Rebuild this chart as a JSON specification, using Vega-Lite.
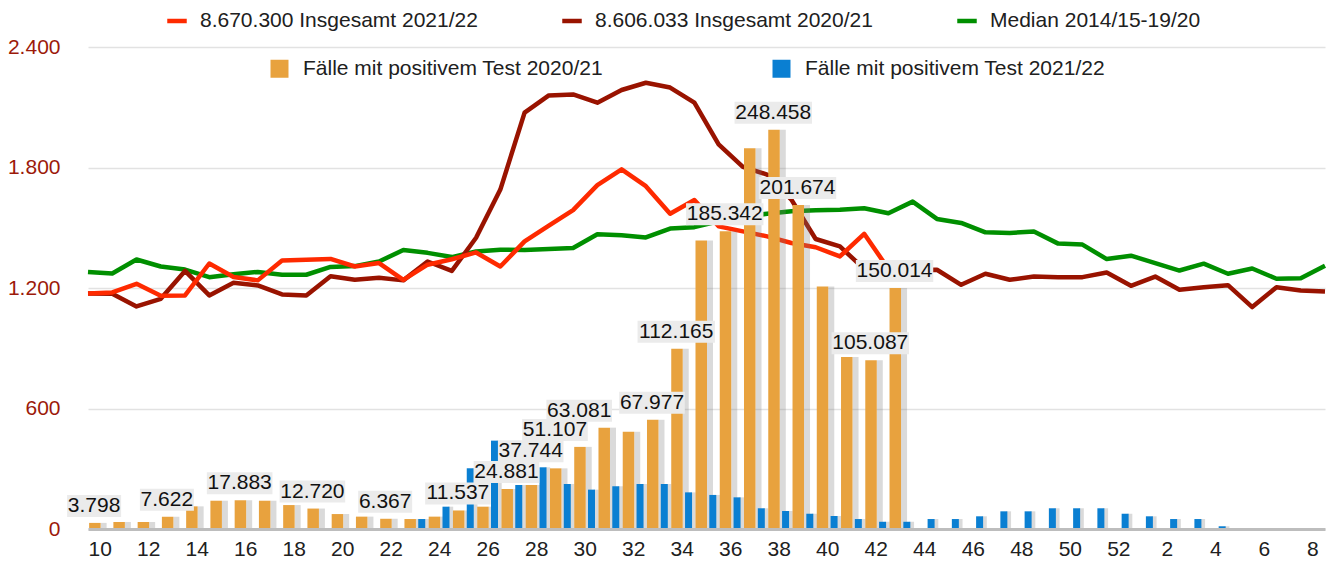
{
  "$schema": "https://vega.github.io/schema/vega-lite/v6.json",
  "width": 1237,
  "height": 482,
  "autosize": {"type": "none"},
  "padding": {"left": 88, "top": 47, "right": 2, "bottom": 35},
  "background": "white",
  "config": {
    "font": "Liberation Sans",
    "view": {"stroke": null},
    "axis": {"labelFont": "Liberation Sans"},
    "legend": {"labelFont": "Liberation Sans"},
    "text": {"font": "Liberation Sans"}
  },
  "datasets": {
    "lines": [
      {"week":10,"series":"Median 2014/15-19/20","deaths":1280},{"week":11,"series":"Median 2014/15-19/20","deaths":1272},{"week":12,"series":"Median 2014/15-19/20","deaths":1342},{"week":13,"series":"Median 2014/15-19/20","deaths":1307},{"week":14,"series":"Median 2014/15-19/20","deaths":1292},{"week":15,"series":"Median 2014/15-19/20","deaths":1254},{"week":16,"series":"Median 2014/15-19/20","deaths":1268},{"week":17,"series":"Median 2014/15-19/20","deaths":1280},{"week":18,"series":"Median 2014/15-19/20","deaths":1266},{"week":19,"series":"Median 2014/15-19/20","deaths":1266},
      {"week":20,"series":"Median 2014/15-19/20","deaths":1305},{"week":21,"series":"Median 2014/15-19/20","deaths":1309},{"week":22,"series":"Median 2014/15-19/20","deaths":1332},{"week":23,"series":"Median 2014/15-19/20","deaths":1389},{"week":24,"series":"Median 2014/15-19/20","deaths":1375},{"week":25,"series":"Median 2014/15-19/20","deaths":1354},{"week":26,"series":"Median 2014/15-19/20","deaths":1382},{"week":27,"series":"Median 2014/15-19/20","deaths":1391},{"week":28,"series":"Median 2014/15-19/20","deaths":1389},{"week":29,"series":"Median 2014/15-19/20","deaths":1394},
      {"week":30,"series":"Median 2014/15-19/20","deaths":1399},{"week":31,"series":"Median 2014/15-19/20","deaths":1468},{"week":32,"series":"Median 2014/15-19/20","deaths":1463},{"week":33,"series":"Median 2014/15-19/20","deaths":1452},{"week":34,"series":"Median 2014/15-19/20","deaths":1496},{"week":35,"series":"Median 2014/15-19/20","deaths":1503},{"week":36,"series":"Median 2014/15-19/20","deaths":1532},{"week":37,"series":"Median 2014/15-19/20","deaths":1554},{"week":38,"series":"Median 2014/15-19/20","deaths":1570},{"week":39,"series":"Median 2014/15-19/20","deaths":1582},
      {"week":40,"series":"Median 2014/15-19/20","deaths":1587},{"week":41,"series":"Median 2014/15-19/20","deaths":1590},{"week":42,"series":"Median 2014/15-19/20","deaths":1597},{"week":43,"series":"Median 2014/15-19/20","deaths":1572},{"week":44,"series":"Median 2014/15-19/20","deaths":1630},{"week":45,"series":"Median 2014/15-19/20","deaths":1544},{"week":46,"series":"Median 2014/15-19/20","deaths":1524},{"week":47,"series":"Median 2014/15-19/20","deaths":1477},{"week":48,"series":"Median 2014/15-19/20","deaths":1474},{"week":49,"series":"Median 2014/15-19/20","deaths":1481},
      {"week":50,"series":"Median 2014/15-19/20","deaths":1421},{"week":51,"series":"Median 2014/15-19/20","deaths":1416},{"week":52,"series":"Median 2014/15-19/20","deaths":1344},{"week":1,"series":"Median 2014/15-19/20","deaths":1361},{"week":2,"series":"Median 2014/15-19/20","deaths":1324},{"week":3,"series":"Median 2014/15-19/20","deaths":1287},{"week":4,"series":"Median 2014/15-19/20","deaths":1321},{"week":5,"series":"Median 2014/15-19/20","deaths":1271},{"week":6,"series":"Median 2014/15-19/20","deaths":1297},{"week":7,"series":"Median 2014/15-19/20","deaths":1246},{"week":8,"series":"Median 2014/15-19/20","deaths":1249},{"week":9,"series":"Median 2014/15-19/20","deaths":1311},

      {"week":10,"series":"8.606.033 Insgesamt 2020/21","deaths":1173},{"week":11,"series":"8.606.033 Insgesamt 2020/21","deaths":1171},{"week":12,"series":"8.606.033 Insgesamt 2020/21","deaths":1108},{"week":13,"series":"8.606.033 Insgesamt 2020/21","deaths":1146},{"week":14,"series":"8.606.033 Insgesamt 2020/21","deaths":1285},{"week":15,"series":"8.606.033 Insgesamt 2020/21","deaths":1163},{"week":16,"series":"8.606.033 Insgesamt 2020/21","deaths":1226},{"week":17,"series":"8.606.033 Insgesamt 2020/21","deaths":1213},{"week":18,"series":"8.606.033 Insgesamt 2020/21","deaths":1168},{"week":19,"series":"8.606.033 Insgesamt 2020/21","deaths":1163},
      {"week":20,"series":"8.606.033 Insgesamt 2020/21","deaths":1259},{"week":21,"series":"8.606.033 Insgesamt 2020/21","deaths":1241},{"week":22,"series":"8.606.033 Insgesamt 2020/21","deaths":1251},{"week":23,"series":"8.606.033 Insgesamt 2020/21","deaths":1238},{"week":24,"series":"8.606.033 Insgesamt 2020/21","deaths":1332},{"week":25,"series":"8.606.033 Insgesamt 2020/21","deaths":1285},{"week":26,"series":"8.606.033 Insgesamt 2020/21","deaths":1450},{"week":27,"series":"8.606.033 Insgesamt 2020/21","deaths":1690},{"week":28,"series":"8.606.033 Insgesamt 2020/21","deaths":2073},{"week":29,"series":"8.606.033 Insgesamt 2020/21","deaths":2159},
      {"week":30,"series":"8.606.033 Insgesamt 2020/21","deaths":2164},{"week":31,"series":"8.606.033 Insgesamt 2020/21","deaths":2123},{"week":32,"series":"8.606.033 Insgesamt 2020/21","deaths":2186},{"week":33,"series":"8.606.033 Insgesamt 2020/21","deaths":2222},{"week":34,"series":"8.606.033 Insgesamt 2020/21","deaths":2198},{"week":35,"series":"8.606.033 Insgesamt 2020/21","deaths":2123},{"week":36,"series":"8.606.033 Insgesamt 2020/21","deaths":1915},{"week":37,"series":"8.606.033 Insgesamt 2020/21","deaths":1803},{"week":38,"series":"8.606.033 Insgesamt 2020/21","deaths":1765},{"week":39,"series":"8.606.033 Insgesamt 2020/21","deaths":1640},
      {"week":40,"series":"8.606.033 Insgesamt 2020/21","deaths":1444},{"week":41,"series":"8.606.033 Insgesamt 2020/21","deaths":1407},{"week":42,"series":"8.606.033 Insgesamt 2020/21","deaths":1295},{"week":43,"series":"8.606.033 Insgesamt 2020/21","deaths":1300},{"week":44,"series":"8.606.033 Insgesamt 2020/21","deaths":1290},{"week":45,"series":"8.606.033 Insgesamt 2020/21","deaths":1291},{"week":46,"series":"8.606.033 Insgesamt 2020/21","deaths":1216},{"week":47,"series":"8.606.033 Insgesamt 2020/21","deaths":1271},{"week":48,"series":"8.606.033 Insgesamt 2020/21","deaths":1241},{"week":49,"series":"8.606.033 Insgesamt 2020/21","deaths":1257},
      {"week":50,"series":"8.606.033 Insgesamt 2020/21","deaths":1254},{"week":51,"series":"8.606.033 Insgesamt 2020/21","deaths":1254},{"week":52,"series":"8.606.033 Insgesamt 2020/21","deaths":1277},{"week":1,"series":"8.606.033 Insgesamt 2020/21","deaths":1211},{"week":2,"series":"8.606.033 Insgesamt 2020/21","deaths":1257},{"week":3,"series":"8.606.033 Insgesamt 2020/21","deaths":1191},{"week":4,"series":"8.606.033 Insgesamt 2020/21","deaths":1204},{"week":5,"series":"8.606.033 Insgesamt 2020/21","deaths":1214},{"week":6,"series":"8.606.033 Insgesamt 2020/21","deaths":1105},{"week":7,"series":"8.606.033 Insgesamt 2020/21","deaths":1204},{"week":8,"series":"8.606.033 Insgesamt 2020/21","deaths":1188},{"week":9,"series":"8.606.033 Insgesamt 2020/21","deaths":1183},

      {"week":10,"series":"8.670.300 Insgesamt 2021/22","deaths":1173},{"week":11,"series":"8.670.300 Insgesamt 2021/22","deaths":1178},{"week":12,"series":"8.670.300 Insgesamt 2021/22","deaths":1221},{"week":13,"series":"8.670.300 Insgesamt 2021/22","deaths":1161},{"week":14,"series":"8.670.300 Insgesamt 2021/22","deaths":1163},{"week":15,"series":"8.670.300 Insgesamt 2021/22","deaths":1322},{"week":16,"series":"8.670.300 Insgesamt 2021/22","deaths":1255},{"week":17,"series":"8.670.300 Insgesamt 2021/22","deaths":1238},{"week":18,"series":"8.670.300 Insgesamt 2021/22","deaths":1337},{"week":19,"series":"8.670.300 Insgesamt 2021/22","deaths":1341},
      {"week":20,"series":"8.670.300 Insgesamt 2021/22","deaths":1345},{"week":21,"series":"8.670.300 Insgesamt 2021/22","deaths":1307},{"week":22,"series":"8.670.300 Insgesamt 2021/22","deaths":1324},{"week":23,"series":"8.670.300 Insgesamt 2021/22","deaths":1240},{"week":24,"series":"8.670.300 Insgesamt 2021/22","deaths":1316},{"week":25,"series":"8.670.300 Insgesamt 2021/22","deaths":1343},{"week":26,"series":"8.670.300 Insgesamt 2021/22","deaths":1377},{"week":27,"series":"8.670.300 Insgesamt 2021/22","deaths":1307},{"week":28,"series":"8.670.300 Insgesamt 2021/22","deaths":1432},{"week":29,"series":"8.670.300 Insgesamt 2021/22","deaths":1511},
      {"week":30,"series":"8.670.300 Insgesamt 2021/22","deaths":1588},{"week":31,"series":"8.670.300 Insgesamt 2021/22","deaths":1712},{"week":32,"series":"8.670.300 Insgesamt 2021/22","deaths":1791},{"week":33,"series":"8.670.300 Insgesamt 2021/22","deaths":1707},{"week":34,"series":"8.670.300 Insgesamt 2021/22","deaths":1570},{"week":35,"series":"8.670.300 Insgesamt 2021/22","deaths":1638},{"week":36,"series":"8.670.300 Insgesamt 2021/22","deaths":1507},{"week":37,"series":"8.670.300 Insgesamt 2021/22","deaths":1482},{"week":38,"series":"8.670.300 Insgesamt 2021/22","deaths":1457},{"week":39,"series":"8.670.300 Insgesamt 2021/22","deaths":1424},
      {"week":40,"series":"8.670.300 Insgesamt 2021/22","deaths":1403},{"week":41,"series":"8.670.300 Insgesamt 2021/22","deaths":1357},{"week":42,"series":"8.670.300 Insgesamt 2021/22","deaths":1470},{"week":43,"series":"8.670.300 Insgesamt 2021/22","deaths":1295}
    ],
    "bars": [
      {"week":10,"series":"Fälle mit positivem Test 2020/21","cases":3798},{"week":11,"series":"Fälle mit positivem Test 2020/21","cases":4360},{"week":12,"series":"Fälle mit positivem Test 2020/21","cases":4360},{"week":13,"series":"Fälle mit positivem Test 2020/21","cases":7622},{"week":14,"series":"Fälle mit positivem Test 2020/21","cases":14100},{"week":15,"series":"Fälle mit positivem Test 2020/21","cases":17600},{"week":16,"series":"Fälle mit positivem Test 2020/21","cases":17883},{"week":17,"series":"Fälle mit positivem Test 2020/21","cases":17600},{"week":18,"series":"Fälle mit positivem Test 2020/21","cases":14900},{"week":19,"series":"Fälle mit positivem Test 2020/21","cases":12720},
      {"week":20,"series":"Fälle mit positivem Test 2020/21","cases":9300},{"week":21,"series":"Fälle mit positivem Test 2020/21","cases":7700},{"week":22,"series":"Fälle mit positivem Test 2020/21","cases":6367},{"week":23,"series":"Fälle mit positivem Test 2020/21","cases":6200},{"week":24,"series":"Fälle mit positivem Test 2020/21","cases":7700},{"week":25,"series":"Fälle mit positivem Test 2020/21","cases":11537},{"week":26,"series":"Fälle mit positivem Test 2020/21","cases":13900},{"week":27,"series":"Fälle mit positivem Test 2020/21","cases":24881},{"week":28,"series":"Fälle mit positivem Test 2020/21","cases":27400},{"week":29,"series":"Fälle mit positivem Test 2020/21","cases":37744},
      {"week":30,"series":"Fälle mit positivem Test 2020/21","cases":51107},{"week":31,"series":"Fälle mit positivem Test 2020/21","cases":63081},{"week":32,"series":"Fälle mit positivem Test 2020/21","cases":60500},{"week":33,"series":"Fälle mit positivem Test 2020/21","cases":67977},{"week":34,"series":"Fälle mit positivem Test 2020/21","cases":112165},{"week":35,"series":"Fälle mit positivem Test 2020/21","cases":179500},{"week":36,"series":"Fälle mit positivem Test 2020/21","cases":185342},{"week":37,"series":"Fälle mit positivem Test 2020/21","cases":237000},{"week":38,"series":"Fälle mit positivem Test 2020/21","cases":248458},{"week":39,"series":"Fälle mit positivem Test 2020/21","cases":201674},
      {"week":40,"series":"Fälle mit positivem Test 2020/21","cases":151000},{"week":41,"series":"Fälle mit positivem Test 2020/21","cases":107000},{"week":42,"series":"Fälle mit positivem Test 2020/21","cases":105087},{"week":43,"series":"Fälle mit positivem Test 2020/21","cases":150014},

      {"week":23,"series":"Fälle mit positivem Test 2021/22","cases":6200},{"week":24,"series":"Fälle mit positivem Test 2021/22","cases":13900},{"week":25,"series":"Fälle mit positivem Test 2021/22","cases":37800},{"week":26,"series":"Fälle mit positivem Test 2021/22","cases":55000},{"week":27,"series":"Fälle mit positivem Test 2021/22","cases":27400},{"week":28,"series":"Fälle mit positivem Test 2021/22","cases":38400},{"week":29,"series":"Fälle mit positivem Test 2021/22","cases":28000},{"week":30,"series":"Fälle mit positivem Test 2021/22","cases":24500},{"week":31,"series":"Fälle mit positivem Test 2021/22","cases":26600},{"week":32,"series":"Fälle mit positivem Test 2021/22","cases":28000},
      {"week":33,"series":"Fälle mit positivem Test 2021/22","cases":28000},{"week":34,"series":"Fälle mit positivem Test 2021/22","cases":22800},{"week":35,"series":"Fälle mit positivem Test 2021/22","cases":21200},{"week":36,"series":"Fälle mit positivem Test 2021/22","cases":19700},{"week":37,"series":"Fälle mit positivem Test 2021/22","cases":12900},{"week":38,"series":"Fälle mit positivem Test 2021/22","cases":11200},{"week":39,"series":"Fälle mit positivem Test 2021/22","cases":9500},{"week":40,"series":"Fälle mit positivem Test 2021/22","cases":8100},{"week":41,"series":"Fälle mit positivem Test 2021/22","cases":6200},{"week":42,"series":"Fälle mit positivem Test 2021/22","cases":4500},
      {"week":43,"series":"Fälle mit positivem Test 2021/22","cases":4500},{"week":44,"series":"Fälle mit positivem Test 2021/22","cases":6200},{"week":45,"series":"Fälle mit positivem Test 2021/22","cases":6200},{"week":46,"series":"Fälle mit positivem Test 2021/22","cases":7900},{"week":47,"series":"Fälle mit positivem Test 2021/22","cases":11000},{"week":48,"series":"Fälle mit positivem Test 2021/22","cases":11000},{"week":49,"series":"Fälle mit positivem Test 2021/22","cases":12900},{"week":50,"series":"Fälle mit positivem Test 2021/22","cases":12900},{"week":51,"series":"Fälle mit positivem Test 2021/22","cases":12900},{"week":52,"series":"Fälle mit positivem Test 2021/22","cases":9500},
      {"week":1,"series":"Fälle mit positivem Test 2021/22","cases":7900},{"week":2,"series":"Fälle mit positivem Test 2021/22","cases":6200},{"week":3,"series":"Fälle mit positivem Test 2021/22","cases":6200},{"week":4,"series":"Fälle mit positivem Test 2021/22","cases":1700},{"week":5,"series":"Fälle mit positivem Test 2021/22","cases":400}
    ],
    "labels": [
      {"week":10,"cases":3798,"label":"3.798"},
      {"week":13,"cases":7622,"label":"7.622"},
      {"week":16,"cases":17883,"label":"17.883"},
      {"week":19,"cases":12720,"label":"12.720"},
      {"week":22,"cases":6367,"label":"6.367"},
      {"week":25,"cases":11537,"label":"11.537"},
      {"week":27,"cases":24881,"label":"24.881"},
      {"week":28,"cases":37744,"label":"37.744"},
      {"week":29,"cases":51107,"label":"51.107"},
      {"week":30,"cases":63081,"label":"63.081"},
      {"week":33,"cases":67977,"label":"67.977"},
      {"week":34,"cases":112165,"label":"112.165"},
      {"week":36,"cases":185342,"label":"185.342"},
      {"week":38,"cases":248458,"label":"248.458"},
      {"week":39,"cases":201674,"label":"201.674"},
      {"week":42,"cases":105087,"label":"105.087"},
      {"week":43,"cases":150014,"label":"150.014"}
    ]
  },
  "layer": [
    {
      "data": {"name": "lines"},
      "mark": {"type": "line", "strokeWidth": 4.5, "strokeJoin": "round"},
      "encoding": {
        "x": {
          "field": "week", "type": "ordinal",
          "scale": {"type": "point", "padding": 0, "domain": [10,11,12,13,14,15,16,17,18,19,20,21,22,23,24,25,26,27,28,29,30,31,32,33,34,35,36,37,38,39,40,41,42,43,44,45,46,47,48,49,50,51,52,1,2,3,4,5,6,7,8,9]},
          "axis": null
        },
        "y": {
          "field": "deaths", "type": "quantitative",
          "scale": {"domain": [0, 2400], "nice": false, "zero": true},
          "axis": {
            "values": [0, 600, 1200, 1800, 2400],
            "labelExpr": "replace(format(datum.value, ','), ',', '.')",
            "title": null, "ticks": false, "domain": false,
            "grid": true, "gridColor": "#e2e2e2", "gridWidth": 1.5,
            "labelColor": "#9c1a0a", "labelFontSize": 21, "labelPadding": 28
          }
        },
        "stroke": {
          "field": "series", "type": "nominal",
          "scale": {
            "domain": ["8.670.300 Insgesamt 2021/22", "8.606.033 Insgesamt 2020/21", "Median 2014/15-19/20"],
            "range": ["#fe2a00", "#991300", "#008f00"]
          },
          "legend": {
            "orient": "none", "legendX": 77, "legendY": -38, "direction": "horizontal",
            "title": null, "symbolType": "stroke", "symbolStrokeWidth": 4.5, "symbolSize": 380,
            "labelFontSize": 21, "labelColor": "#202020", "labelOffset": 11,
            "columnPadding": 75, "padding": 0, "labelLimit": 400
          }
        },
        "order": {"value": null}
      }
    },
    {
      "encoding": {
        "x": {
          "field": "week", "type": "ordinal",
          "scale": {"type": "band", "paddingInner": 0, "paddingOuter": 0, "domain": [10,11,12,13,14,15,16,17,18,19,20,21,22,23,24,25,26,27,28,29,30,31,32,33,34,35,36,37,38,39,40,41,42,43,44,45,46,47,48,49,50,51,52,1,2,3,4,5,6,7,8]},
          "axis": {
            "values": [10,12,14,16,18,20,22,24,26,28,30,32,34,36,38,40,42,44,46,48,50,52,2,4,6,8],
            "title": null, "labelAngle": 0, "ticks": false, "grid": false,
            "domainColor": "#bdbdbd", "domainWidth": 3, "zindex": 1,
            "labelFontSize": 21, "labelColor": "#202020", "labelPadding": 9
          }
        },
        "y": {
          "field": "cases", "type": "quantitative",
          "scale": {"domain": [0, 300000], "nice": false},
          "axis": null
        }
      },
      "layer": [
        {
          "data": {"name": "bars"},
          "transform": [{"filter": "datum.series == 'Fälle mit positivem Test 2020/21'"}],
          "mark": {"type": "bar", "width": 6, "xOffset": 3.5, "color": "#7a7a7a", "opacity": 0.28},
          "encoding": {}
        },
        {
          "data": {"name": "bars"},
          "transform": [{"filter": "datum.series == 'Fälle mit positivem Test 2021/22'"}],
          "mark": {"type": "bar", "width": 5, "xOffset": 11, "color": "#7a7a7a", "opacity": 0.28},
          "encoding": {}
        },
        {
          "data": {"name": "bars"},
          "transform": [{"filter": "datum.series == 'Fälle mit positivem Test 2020/21'"}],
          "mark": {"type": "bar", "width": 11.5, "xOffset": -5.25},
          "encoding": {
            "fill": {
              "field": "series", "type": "nominal",
              "scale": {
                "domain": ["Fälle mit positivem Test 2020/21", "Fälle mit positivem Test 2021/22"],
                "range": ["#e8a23e", "#0a7fd2"]
              },
              "legend": {
                "orient": "none", "legendX": 181, "legendY": 11, "direction": "horizontal",
                "title": null, "symbolType": "square", "symbolSize": 324, "symbolStrokeWidth": 0,
                "labelFontSize": 21, "labelColor": "#202020", "labelOffset": 13,
                "columnPadding": 168, "padding": 0, "labelLimit": 400
              }
            }
          }
        },
        {
          "data": {"name": "bars"},
          "transform": [{"filter": "datum.series == 'Fälle mit positivem Test 2021/22'"}],
          "mark": {"type": "bar", "width": 7, "xOffset": 6.3},
          "encoding": {
            "fill": {"field": "series", "type": "nominal"}
          }
        },
        {
          "data": {"name": "labels"},
          "mark": {"type": "point", "filled": true, "opacity": 1, "color": "#ebebeb", "strokeWidth": 0, "size": 400, "xOffset": -6},
          "encoding": {
            "shape": {
              "field": "label", "type": "nominal", "legend": null,
              "scale": {
                "domain": ["3.798","7.622","17.883","12.720","6.367","11.537","24.881","37.744","51.107","63.081","67.977","112.165","185.342","248.458","201.674","105.087","150.014"],
                "range": [
                  "M-2.7,-2.8H2.7V-0.6H-2.7Z","M-2.7,-2.8H2.7V-0.6H-2.7Z",
                  "M-3.28,-2.8H3.28V-0.6H-3.28Z","M-3.28,-2.8H3.28V-0.6H-3.28Z",
                  "M-2.7,-2.8H2.7V-0.6H-2.7Z",
                  "M-3.28,-2.8H3.28V-0.6H-3.28Z","M-3.28,-2.8H3.28V-0.6H-3.28Z","M-3.28,-2.8H3.28V-0.6H-3.28Z","M-3.28,-2.8H3.28V-0.6H-3.28Z","M-3.28,-2.8H3.28V-0.6H-3.28Z","M-3.28,-2.8H3.28V-0.6H-3.28Z",
                  "M-3.87,-2.8H3.87V-0.6H-3.87Z","M-3.87,-2.8H3.87V-0.6H-3.87Z","M-3.87,-2.8H3.87V-0.6H-3.87Z","M-3.87,-2.8H3.87V-0.6H-3.87Z","M-3.87,-2.8H3.87V-0.6H-3.87Z","M-3.87,-2.8H3.87V-0.6H-3.87Z"
                ]
              }
            }
          }
        },
        {
          "data": {"name": "labels"},
          "mark": {"type": "text", "fontSize": 21, "dx": -6, "dy": -11, "baseline": "alphabetic", "align": "center", "color": "#111111"},
          "encoding": {
            "text": {"field": "label", "type": "nominal"}
          }
        }
      ]
    }
  ],
  "resolve": {"scale": {"x": "independent", "y": "independent"}}
}
